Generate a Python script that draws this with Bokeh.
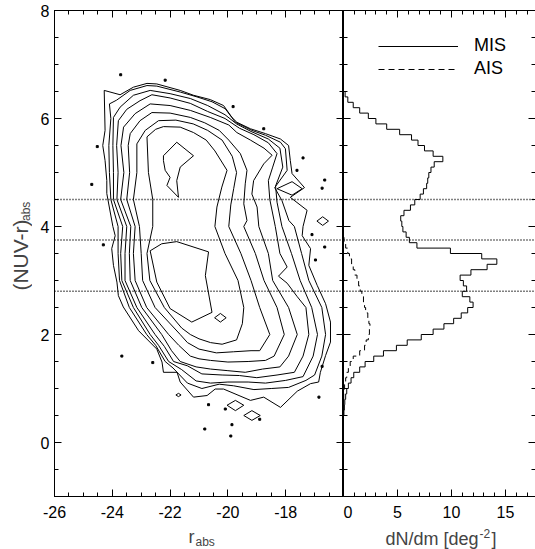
import numpy as np
from bokeh.plotting import figure
from bokeh.layouts import row, column
from bokeh.models import Range1d, LinearAxis, FixedTicker, Label, Legend, LegendItem, Span
from bokeh.embed import file_html
from bokeh.resources import INLINE

FONT = "Liberation Sans"

# ---------------- data: contour levels (r_abs, (NUV-r)_abs), outermost first ----------------
contour_1 = [(-24.28,6.52),(-23.73,6.44),(-23.27,6.58),(-22.80,6.65),(-22.46,6.64),(-21.65,6.52),(-21.19,6.43),
             (-20.61,6.35),(-20.15,6.24),(-19.86,6.02),(-19.69,5.93),(-19.22,5.81),(-18.70,5.72),(-18.18,5.62),
             (-17.90,5.50),(-17.84,5.22),(-17.78,4.98),(-17.35,4.72),(-17.84,4.54),(-17.26,4.30),(-17.40,4.00),
             (-17.43,3.83),(-17.14,3.59),(-17.20,3.28),(-16.91,2.91),(-16.62,2.57),(-16.45,2.23),(-16.45,1.86),
             (-16.62,1.61),(-16.80,1.30),(-16.86,1.12),(-17.14,1.09),(-17.60,0.95),(-18.18,0.65),(-18.76,0.84),
             (-19.22,0.78),(-20.15,0.99),(-20.44,0.99),(-20.72,0.87),(-21.19,0.84),(-21.65,1.12),(-21.76,1.30),
             (-22.23,1.30),(-22.28,1.49),(-22.46,1.73),(-23.09,2.07),(-23.62,2.51),(-23.79,2.72),(-23.84,2.97),
             (-23.96,3.28),(-24.02,3.59),(-23.90,3.83),(-23.98,4.00),(-24.19,4.61),(-24.19,4.85),(-24.25,5.22),
             (-24.33,5.50),(-24.25,5.78)]
contour_2 = [(-24.10,6.27),(-23.85,6.34),(-23.38,6.52),(-22.80,6.61),(-22.46,6.60),(-21.65,6.49),(-21.07,6.40),
             (-20.55,6.31),(-20.09,6.18),(-19.74,5.93),(-19.17,5.78),(-18.70,5.69),(-18.18,5.56),(-18.01,5.44),
             (-17.95,5.04),(-18.38,4.72),(-18.13,4.48),(-17.89,4.11),(-17.70,4.00),(-17.45,3.50),(-17.20,3.00),
             (-16.75,2.50),(-16.62,2.00),(-16.75,1.60),(-17.00,1.25),(-17.30,1.15),(-17.90,1.02),(-18.50,1.00),
             (-19.10,0.98),(-19.80,1.05),(-20.30,1.08),(-20.90,1.00),(-21.40,1.10),(-21.90,1.38),(-22.17,1.50),
             (-22.50,1.80),(-22.81,2.00),(-23.41,2.50),(-23.75,3.00),(-23.80,3.50),(-23.80,4.00),(-24.05,4.50),
             (-24.10,5.00),(-24.12,5.50),(-24.05,6.00)]
contour_3 = [(-23.96,6.02),(-23.73,6.21),(-23.27,6.43),(-22.69,6.52),(-22.00,6.46),(-21.30,6.37),(-20.70,6.24),
             (-20.10,6.07),(-19.70,5.90),(-19.20,5.76),(-18.60,5.62),(-18.20,5.45),(-18.10,5.10),(-18.35,4.75),
             (-18.30,4.45),(-18.13,4.00),(-17.80,3.50),(-17.50,3.00),(-17.10,2.50),(-16.90,2.00),(-17.05,1.60),
             (-17.40,1.22),(-18.00,1.15),(-18.70,1.10),(-19.30,1.12),(-20.00,1.12),(-20.60,1.10),(-21.10,1.14),
             (-21.60,1.35),(-22.05,1.50),(-22.40,1.80),(-22.69,2.00),(-23.27,2.50),(-23.67,3.00),(-23.71,3.50),
             (-23.64,4.00),(-23.96,4.50),(-23.96,5.00),(-23.98,5.50)]
contour_4 = [(-23.79,5.96),(-23.50,6.17),(-23.04,6.33),(-22.63,6.44),(-22.00,6.38),(-21.30,6.28),(-20.70,6.13),
             (-20.10,6.00),(-19.60,5.82),(-19.10,5.70),(-18.60,5.55),(-18.30,5.35),(-18.45,5.10),(-18.60,4.85),
             (-18.55,4.50),(-18.36,4.00),(-18.20,3.50),(-17.95,3.25),(-18.25,3.08),(-17.95,2.95),(-17.60,2.70),
             (-17.30,2.50),(-17.20,2.00),(-17.40,1.60),(-17.70,1.30),(-18.30,1.25),(-19.00,1.20),(-19.60,1.24),
             (-20.20,1.25),(-20.90,1.27),(-21.40,1.42),(-21.88,1.50),(-22.20,1.78),(-22.52,2.00),(-23.15,2.50),
             (-23.56,3.00),(-23.56,3.50),(-23.50,4.00),(-23.84,4.50),(-23.80,5.00),(-23.85,5.50)]
contour_5 = [(-23.61,5.84),(-23.21,6.09),(-22.69,6.27),(-22.00,6.24),(-21.30,6.15),(-20.61,6.02),(-19.97,5.88),
             (-19.69,5.74),(-19.22,5.60),(-18.75,5.45),(-18.47,5.32),(-18.76,5.16),(-19.11,4.85),(-19.17,4.60),
             (-18.99,4.36),(-18.93,4.00),(-18.60,3.50),(-18.45,3.00),(-17.90,2.50),(-17.60,2.00),(-17.90,1.60),
             (-18.20,1.40),(-18.80,1.36),(-19.40,1.30),(-20.00,1.33),(-20.60,1.36),(-21.10,1.40),(-21.65,1.50),
             (-21.95,1.70),(-22.29,2.00),(-22.98,2.50),(-23.38,3.00),(-23.41,3.50),(-23.36,4.00),(-23.71,4.50),
             (-23.60,5.00),(-23.70,5.50)]
contour_6 = [(-23.38,5.72),(-23.04,5.96),(-22.63,6.11),(-22.00,6.10),(-21.30,6.02),(-20.80,5.92),(-20.30,5.78),
             (-19.97,5.60),(-19.57,5.35),(-19.34,5.04),(-19.40,4.79),(-19.45,4.42),(-19.34,4.11),(-19.45,4.00),
             (-19.05,3.50),(-18.75,3.00),(-18.30,2.50),(-18.05,2.00),(-18.40,1.60),(-18.70,1.52),(-19.30,1.50),
             (-20.00,1.49),(-20.60,1.52),(-21.00,1.55),(-21.30,1.60),(-21.70,1.80),(-22.05,2.00),(-22.81,2.50),
             (-23.21,3.00),(-23.27,3.50),(-23.21,4.00),(-23.50,4.50),(-23.40,5.00),(-23.45,5.50)]
contour_7 = [(-23.15,5.53),(-22.86,5.78),(-22.40,5.96),(-21.80,5.97),(-21.20,5.90),(-20.70,5.78),(-20.20,5.60),
             (-19.85,5.30),(-19.70,5.00),(-19.80,4.70),(-19.90,4.40),(-19.97,4.00),(-19.55,3.50),(-19.20,3.00),
             (-18.90,2.50),(-18.55,2.00),(-18.90,1.70),(-19.20,1.70),(-19.80,1.68),(-20.40,1.66),(-21.00,1.73),
             (-21.40,1.85),(-21.65,2.00),(-22.52,2.50),(-22.95,3.00),(-23.00,3.50),(-23.06,4.00),(-23.27,4.50),
             (-23.15,5.00)]
contour_8 = [(-22.80,5.66),(-22.50,5.80),(-22.23,5.85),(-21.65,5.84),(-21.19,5.74),(-20.75,5.60),(-20.45,5.40),
             (-20.03,5.04),(-20.21,4.73),(-20.38,4.36),(-20.45,4.00),(-20.10,3.50),(-19.65,3.00),(-19.45,2.50),
             (-19.50,2.20),(-19.70,1.90),(-20.20,1.82),(-20.60,1.85),(-21.00,1.92),(-21.30,2.00),(-21.60,2.12),
             (-22.20,2.50),(-22.70,3.00),(-22.80,3.50),(-22.60,4.00),(-22.60,4.50),(-22.75,5.00)]
contour_9_red = [(-22.23,5.31),(-21.77,5.56),(-21.19,5.31),(-21.65,5.10),(-21.77,4.85),(-21.71,4.54),(-22.11,4.76),
                 (-22.00,4.91),(-22.17,5.04),(-22.23,5.22)]
contour_9_blue = [(-22.69,3.55),(-22.29,3.68),(-21.77,3.72),(-20.67,3.53),(-20.78,3.09),(-20.55,2.41),(-21.25,2.23),
                  (-22.00,2.48),(-22.46,2.97)]
contour_10_blue = [(-20.46,2.31),(-20.26,2.39),(-20.06,2.31),(-20.26,2.23)]
island_a = [(-18.30,4.70),(-17.78,4.83),(-17.43,4.70),(-17.78,4.58)]
island_b = [(-16.92,4.10),(-16.72,4.18),(-16.52,4.10),(-16.72,4.02)]
island_c = [(-20.03,0.69),(-19.74,0.78),(-19.45,0.69),(-19.74,0.59)]
island_d = [(-19.45,0.50),(-19.17,0.59),(-18.88,0.50),(-19.17,0.41)]
island_e = [(-21.80,0.88),(-21.71,0.91),(-21.62,0.88),(-21.71,0.85)]

outlier_r = [-23.71,-22.17,-24.52,-24.71,-19.82,-18.76,-17.40,-17.61,-16.65,-16.74,-17.09,-16.65,-16.97,
             -16.74,-16.85,-20.09,-18.90,-19.86,-24.31,-23.67,-22.60,-20.67,-20.80,-19.90]
outlier_nuvr = [6.81,6.71,5.48,4.78,6.22,5.81,5.27,5.04,4.86,4.71,3.85,3.62,3.38,
                1.41,0.84,0.62,0.43,0.33,3.66,1.60,1.48,0.70,0.25,0.12]

# ---------------- data: dN/dm histograms (bins of 0.1 mag in NUV-r) ----------------
mis_first_bin = 0.4
mis_dndm = [0.0, 0.04, 0.08, 0.12, 0.2, 0.3, 0.45, 0.7, 0.95, 1.5,
            2.0, 2.8, 3.7, 4.9, 5.9, 7.2, 8.3, 9.3, 10.2, 10.9,
            11.5, 12.0, 11.7, 11.0, 11.4, 11.1, 10.8, 11.8, 13.3, 14.2,
            12.8, 9.9, 6.8, 6.1, 5.8, 5.5, 5.4, 5.3, 5.6, 6.2,
            6.6, 7.1, 7.4, 7.7, 7.8, 7.9, 8.1, 8.4, 9.2, 8.3,
            7.5, 6.9, 6.3, 5.2, 4.0, 3.0, 2.3, 1.5, 0.9, 0.4,
            0.15, 0.0]
ais_first_bin = 0.8
ais_dndm = [0.02, 0.05, 0.1, 0.2, 0.3, 0.45, 0.62, 0.9, 1.5, 1.95,
            2.1, 2.3, 2.4, 2.45, 2.35, 2.25, 2.05, 1.95, 1.85, 1.7,
            1.55, 1.4, 1.25, 1.05, 0.9, 0.75, 0.55, 0.4, 0.2, 0.05]
bin_width = 0.1
color_cuts = [2.8, 3.75, 4.5]

x_ticks_left = [-26, -24, -22, -20, -18]
x_tick_labels_left = ["-26", "-24", "-22", "-20", "-18"]
x_ticks_right = [0, 5, 10, 15]
y_ticks = [0, 2, 4, 6, 8]


def closed(poly):
    xs = [p[0] for p in poly] + [poly[0][0]]
    ys = [p[1] for p in poly] + [poly[0][1]]
    return xs, ys


def step_path(lo, vals):
    xs, ys = [0.0], [lo]
    for i, v in enumerate(vals):
        xs += [v, v]
        ys += [lo + i * bin_width, lo + (i + 1) * bin_width]
    xs.append(0.0)
    ys.append(lo + len(vals) * bin_width)
    return xs, ys


def style_axis(ax, labels=True, standoff=6, line=True):
    ax.major_tick_in = 7
    ax.major_tick_out = 0
    ax.minor_tick_in = 4
    ax.minor_tick_out = 0
    ax.axis_line_color = "black" if line else None
    ax.major_tick_line_color = "black"
    ax.minor_tick_line_color = "black"
    ax.axis_label = None
    if labels:
        ax.major_label_text_font = FONT
        ax.major_label_text_font_size = "16px"
        ax.major_label_text_color = "black"
        ax.major_label_standoff = standoff
    else:
        ax.major_label_text_font_size = "0px"
        ax.major_label_text_color = None
        ax.major_label_standoff = 0


PANEL_H = 524          # height of the two panels (frame 10..496)
TOP, BOTTOM = 10, 28
YLAB_W = 32
y_minor = list(np.arange(-1.0, 8.01, 0.5))

# ---------------- left panel ----------------
p1 = figure(width=343 - YLAB_W, height=PANEL_H, x_range=Range1d(-26, -16), y_range=Range1d(-1, 8),
            output_backend="svg", toolbar_location=None,
            min_border_left=54 - YLAB_W, min_border_right=0, min_border_top=TOP, min_border_bottom=BOTTOM)
p1.xgrid.visible = False
p1.ygrid.visible = False
p1.outline_line_color = "black"
p1.xaxis.ticker = FixedTicker(ticks=x_ticks_left, minor_ticks=list(np.arange(-26, -15.9, 0.5)))
p1.xaxis.major_label_overrides = dict(zip(x_ticks_left, x_tick_labels_left))
p1.yaxis.ticker = FixedTicker(ticks=y_ticks, minor_ticks=y_minor)
style_axis(p1.xaxis[0], True, 9)
style_axis(p1.yaxis[0], True, 5)
top1 = LinearAxis(ticker=FixedTicker(ticks=x_ticks_left + [-16], minor_ticks=list(np.arange(-26, -15.9, 0.5))))
style_axis(top1, False)
p1.add_layout(top1, "above")
right1 = LinearAxis(ticker=FixedTicker(ticks=y_ticks, minor_ticks=y_minor))
style_axis(right1, False)
p1.add_layout(right1, "right")

levels = [contour_1, contour_2, contour_3, contour_4, contour_5, contour_6, contour_7, contour_8,
          contour_9_red, contour_9_blue, contour_10_blue, island_a, island_b, island_c, island_d, island_e]
cx, cy = zip(*[closed(c) for c in levels])
p1.multi_line(xs=list(cx), ys=list(cy), line_color="black", line_width=1)
p1.scatter(outlier_r, outlier_nuvr, marker="square", size=2, color="black")

for c in color_cuts:
    p1.add_layout(Span(location=c, dimension="width", line_color="black", line_width=1.6, line_dash="1 2"))

# ---------------- right panel ----------------
p2 = figure(width=192, height=PANEL_H, x_range=Range1d(0, 17.78), y_range=Range1d(-1, 8),
            output_backend="svg", toolbar_location=None,
            min_border_left=0, min_border_right=0, min_border_top=TOP, min_border_bottom=BOTTOM)
p2.xgrid.visible = False
p2.ygrid.visible = False
p2.outline_line_color = None
p2.xaxis.ticker = FixedTicker(ticks=x_ticks_right, minor_ticks=list(range(0, 18)))
p2.yaxis.ticker = FixedTicker(ticks=y_ticks, minor_ticks=y_minor)
style_axis(p2.xaxis[0], True, 9)
style_axis(p2.yaxis[0], False)
top2 = LinearAxis(ticker=FixedTicker(ticks=x_ticks_right, minor_ticks=list(range(0, 18))))
style_axis(top2, False)
p2.add_layout(top2, "above")
right2 = LinearAxis(ticker=FixedTicker(ticks=y_ticks, minor_ticks=y_minor))
style_axis(right2, False, line=False)
p2.add_layout(right2, "right")

for c in color_cuts:
    p2.add_layout(Span(location=c, dimension="width", line_color="black", line_width=1.6, line_dash="1 2"))

mx, my = step_path(mis_first_bin, mis_dndm)
ax_, ay_ = step_path(ais_first_bin, ais_dndm)
r_mis = p2.line(mx, my, line_color="black", line_width=1)
r_ais = p2.line(ax_, ay_, line_color="black", line_width=1, line_dash="6 4")

legend = Legend(items=[LegendItem(label="MIS", renderers=[r_mis]), LegendItem(label="AIS", renderers=[r_ais])],
                location=(35, 417), glyph_width=80, glyph_height=20, label_height=20, label_standoff=16,
                spacing=2, padding=0, margin=0, border_line_color=None, background_fill_alpha=0,
                label_text_font=FONT, label_text_font_size="18px", label_text_color="black")
p2.add_layout(legend)

# ---------------- axis titles (own strips so that they are not clipped) ----------------
def strip(w, h):
    s = figure(width=w, height=h, x_range=Range1d(0, w), y_range=Range1d(0, h),
               output_backend="svg", toolbar_location=None, x_axis_location=None, y_axis_location=None,
               min_border=0)
    s.xgrid.visible = False
    s.ygrid.visible = False
    s.outline_line_color = None
    return s


ylab = strip(YLAB_W, PANEL_H)
ylab.add_layout(Label(x=20, y=PANEL_H - 302, text="(NUV-r)", text_font=FONT, text_font_size="21px",
                      text_align="left", text_baseline="alphabetic", angle=np.pi / 2))
ylab.add_layout(Label(x=25, y=PANEL_H - 227, text="abs", text_font=FONT, text_font_size="12px",
                      text_align="left", text_baseline="alphabetic", angle=np.pi / 2))

XLAB_H = 549 - PANEL_H
xlab = strip(535, XLAB_H)
xlab.add_layout(Label(x=194, y=549 - 536, text="r", text_font=FONT, text_font_size="18px",
                      text_align="right", text_baseline="alphabetic"))
xlab.add_layout(Label(x=195, y=549 - 541, text="abs", text_font=FONT, text_font_size="12px",
                      text_align="left", text_baseline="alphabetic"))
xlab.add_layout(Label(x=478, y=549 - 538, text="dN/dm [deg", text_font=FONT, text_font_size="18px",
                      text_align="right", text_baseline="alphabetic"))
xlab.add_layout(Label(x=479, y=549 - 533, text="-2", text_font=FONT, text_font_size="12px",
                      text_align="left", text_baseline="alphabetic"))
xlab.add_layout(Label(x=491, y=549 - 538, text="]", text_font=FONT, text_font_size="18px",
                      text_align="left", text_baseline="alphabetic"))

layout = column(row(ylab, p1, p2), xlab)
open("out.html", "w").write(file_html(layout, INLINE))
